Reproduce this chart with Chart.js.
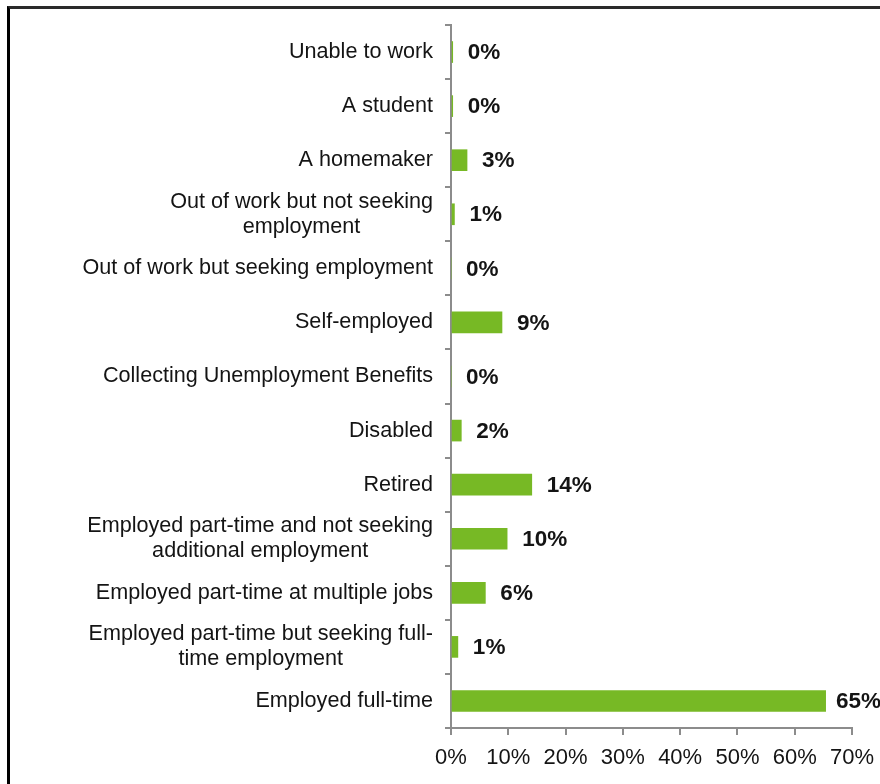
<!DOCTYPE html>
<html>
<head>
<meta charset="utf-8">
<script src="https://cdn.jsdelivr.net/npm/chart.js@4/dist/chart.umd.min.js"></script>
<style>
  html, body { margin: 0; padding: 0; background: #fff; }
  #wrap { position: relative; width: 880px; height: 784px; overflow: hidden; }
  #frame {
    position: absolute; left: 7px; top: 6px; width: 900px; height: 800px;
    border-left: 3px solid #000; border-top: 3px solid #2a2a2a; box-sizing: border-box;
  }
  canvas { position: absolute; left: 0; top: 0; }
</style>
</head>
<body>
<div id="wrap">
  <div id="frame"></div>
  <canvas id="chart" width="880" height="784"></canvas>
</div>
<script>
// Employment status categories, top to bottom
const categories = [
  ["Unable to work"],
  ["A student"],
  ["A homemaker"],
  ["Out of work but not seeking", "employment"],
  ["Out of work but seeking employment"],
  ["Self-employed"],
  ["Collecting Unemployment Benefits"],
  ["Disabled"],
  ["Retired"],
  ["Employed part-time and not seeking", "additional employment"],
  ["Employed part-time at multiple jobs"],
  ["Employed part-time but seeking full-", "time employment"],
  ["Employed full-time"]
];

// Share of respondents (%)
const shares = [0.3, 0.3, 2.8, 0.6, 0, 8.9, 0, 1.8, 14.1, 9.8, 6.0, 1.2, 65.4];

// Percentage axis ticks
const axisMin = 0;
const axisMax = 70;
const axisStep = 10;

const FONT = "'Liberation Sans', Arial, sans-serif";
const TEXT = '#141414';
const AXIS = '#8c8c8c';

// Category labels: block right-aligned against the axis, lines centred within the block
const categoryLabels = {
  id: 'categoryLabels',
  afterDraw(chart) {
    const { ctx, chartArea } = chart;
    const yScale = chart.scales.y;
    const right = chartArea.left - 18;
    const lineH = 25;
    ctx.save();
    ctx.font = '21.6px ' + FONT;
    ctx.fillStyle = TEXT;
    ctx.textAlign = 'center';
    ctx.textBaseline = 'middle';
    categories.forEach((lines, i) => {
      const cy = yScale.getPixelForValue(i);
      const w = Math.max(...lines.map(l => ctx.measureText(l).width));
      const cx = right - w / 2;
      const y0 = cy - (lines.length - 1) * lineH / 2;
      lines.forEach((l, k) => ctx.fillText(l, cx, y0 + k * lineH));
    });
    ctx.restore();
  }
};

// Value labels just past the end of each bar
const valueLabels = {
  id: 'valueLabels',
  afterDatasetsDraw(chart) {
    const { ctx } = chart;
    const meta = chart.getDatasetMeta(0);
    ctx.save();
    ctx.font = 'bold 22.5px ' + FONT;
    ctx.fillStyle = TEXT;
    ctx.textAlign = 'left';
    ctx.textBaseline = 'middle';
    meta.data.forEach((bar, i) => {
      const txt = Math.round(shares[i]) + '%';
      const w = ctx.measureText(txt).width;
      const x = Math.min(bar.x + 15, chart.width - w + 1);
      ctx.fillText(txt, x, bar.y + 1);
    });
    ctx.restore();
  }
};

new Chart(document.getElementById('chart'), {
  type: 'bar',
  data: {
    labels: categories.map(c => c.join(' ')),
    datasets: [{
      data: shares,
      backgroundColor: '#77b925',
      borderWidth: 0,
      barThickness: 21
    }]
  },
  options: {
    indexAxis: 'y',
    responsive: false,
    animation: false,
    layout: { padding: { top: 25, right: 28, bottom: 14, left: 0 } },
    plugins: { legend: { display: false }, tooltip: { enabled: false } },
    scales: {
      x: {
        min: axisMin,
        max: axisMax,
        border: { color: AXIS, width: 2 },
        grid: { drawOnChartArea: false, drawTicks: true, tickLength: 7, color: AXIS, lineWidth: 2 },
        ticks: {
          stepSize: axisStep,
          padding: 10,
          color: TEXT,
          font: { family: FONT, size: 22 },
          callback: v => v + '%',
          maxRotation: 0
        },
        afterFit(scale) {
          scale.height = 42;
          scale.paddingLeft = 0;
          scale.paddingRight = 0;
        }
      },
      y: {
        border: { color: AXIS, width: 2 },
        grid: { drawOnChartArea: false, drawTicks: true, tickLength: 6, color: AXIS, lineWidth: 2 },
        ticks: { display: false },
        afterFit(scale) { scale.width = 451; }
      }
    }
  },
  plugins: [categoryLabels, valueLabels]
});
</script>
</body>
</html>
